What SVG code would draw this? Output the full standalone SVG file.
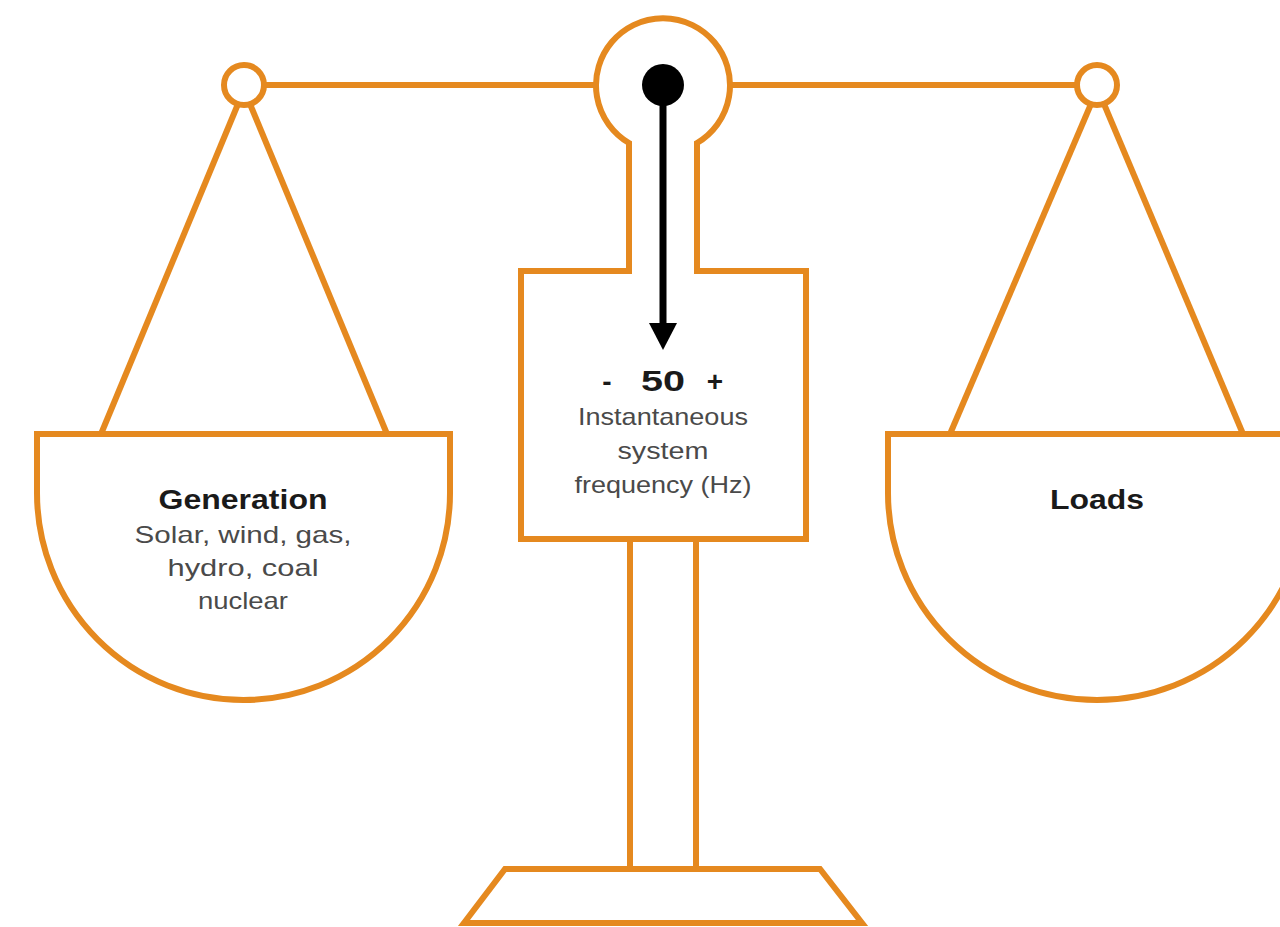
<svg xmlns="http://www.w3.org/2000/svg" width="1280" height="927" viewBox="0 0 1280 927">
<style>
.o{fill:none;stroke:#E5891F;stroke-width:6;stroke-linejoin:miter}
.w{fill:#fff;stroke:#E5891F;stroke-width:6}
.b{font-family:"Liberation Sans",Arial,sans-serif;font-weight:bold;fill:#1a1a1a;text-anchor:middle}
.t{font-family:"Liberation Sans",Arial,sans-serif;fill:#4a4a4a;text-anchor:middle}
</style>
<rect width="1280" height="927" fill="#fff"/>
<g id="connectors">
<line class="o" x1="265" y1="85" x2="597" y2="85"/>
<line class="o" x1="729" y1="85" x2="1077" y2="85"/>
<line class="o" x1="238" y1="104" x2="101" y2="434"/>
<line class="o" x1="250" y1="104" x2="387" y2="434"/>
<line class="o" x1="1091" y1="104" x2="950" y2="434"/>
<line class="o" x1="1104" y1="104" x2="1243" y2="434"/>
</g>
<g id="pivot-left"><circle class="w" cx="244" cy="85" r="20"/></g>
<g id="pivot-right"><circle class="w" cx="1097" cy="85" r="20"/></g>
<g id="pan-generation">
<path class="w" d="M37,434 H450 V493 A206.5,207 0 0 1 37,493 Z"/>
<text class="b" x="243" y="509" font-size="27" textLength="169" lengthAdjust="spacingAndGlyphs">Generation</text>
<text class="t" x="243" y="543" font-size="24" textLength="217" lengthAdjust="spacingAndGlyphs">Solar, wind, gas,</text>
<text class="t" x="243" y="576" font-size="24" textLength="151" lengthAdjust="spacingAndGlyphs">hydro, coal</text>
<text class="t" x="243" y="609" font-size="24" textLength="90" lengthAdjust="spacingAndGlyphs">nuclear</text>
</g>
<g id="pan-loads">
<path class="w" d="M888,434 H1306 V493 A209,207 0 0 1 888,493 Z"/>
<text class="b" x="1097" y="509" font-size="27" textLength="94" lengthAdjust="spacingAndGlyphs">Loads</text>
</g>
<g id="stand">
<line class="o" x1="630" y1="539" x2="630" y2="869"/>
<line class="o" x1="696" y1="539" x2="696" y2="869"/>
<path class="o" d="M505,869 H820 L862,923 H464 Z"/>
</g>
<g id="meter">
<path class="w" d="M629,143 V271 H521 V539 H806 V271 H697 V143 A67,67 0 1 0 629,143 Z"/>
<text class="b" x="607" y="391" font-size="28">-</text>
<text class="b" x="663" y="391" font-size="29" textLength="44" lengthAdjust="spacingAndGlyphs">50</text>
<text class="b" x="715" y="391" font-size="28">+</text>
<text class="t" x="663" y="425" font-size="24" textLength="170" lengthAdjust="spacingAndGlyphs">Instantaneous</text>
<text class="t" x="663" y="459" font-size="24" textLength="91" lengthAdjust="spacingAndGlyphs">system</text>
<text class="t" x="663" y="493" font-size="24" textLength="177" lengthAdjust="spacingAndGlyphs">frequency (Hz)</text>
</g>
<g id="needle">
<circle cx="663" cy="85" r="21" fill="#000"/>
<line x1="663" y1="85" x2="663" y2="328" stroke="#000" stroke-width="7"/>
<polygon points="649,323 677,323 663,350" fill="#000"/>
</g>
</svg>
